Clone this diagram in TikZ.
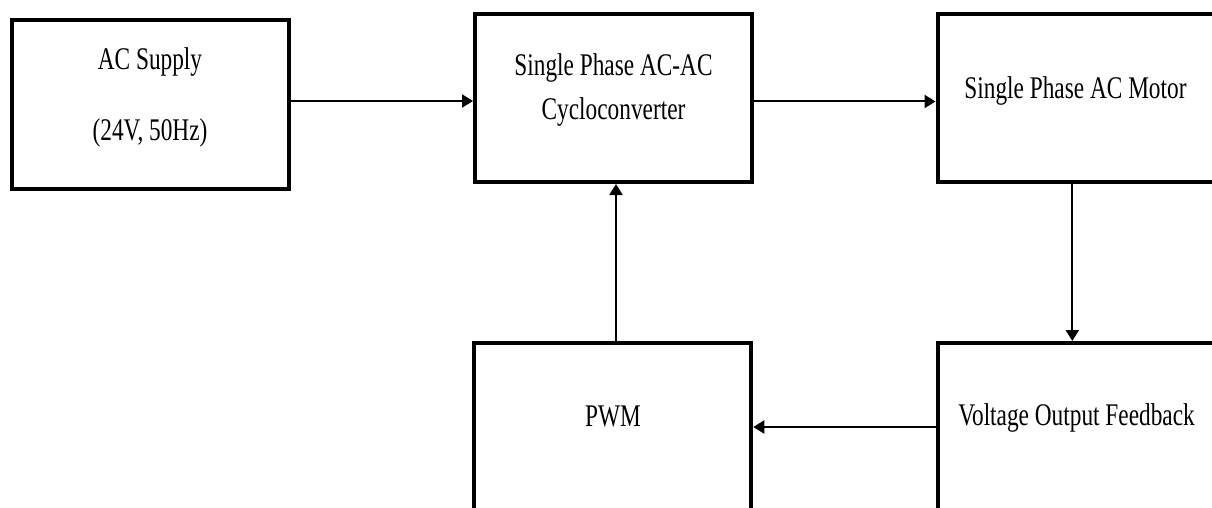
\documentclass[tikz,border=0pt]{standalone}
\usepackage{fontspec}
\setmainfont{Liberation Serif}[FakeStretch=0.74]
\usetikzlibrary{arrows.meta}
\begin{document}
\begin{tikzpicture}[x=1pt,y=-1pt,
  blk/.style={draw, line width=4pt, minimum width=277pt, minimum height=168pt, inner sep=0pt},
  lbl/.style={font=\fontsize{31.5}{38}\selectfont, anchor=base, inner sep=0pt},
  arr/.style={line width=2pt, -{Triangle[length=11pt,width=13pt]}}]
\useasboundingbox (0,0) rectangle (1212,508);
\clip (0,0) rectangle (1212,508);
\fill[white] (0,0) rectangle (1212,508);
% boxes
\node[blk] (ac) at (150,104.5) {};
\node[blk] (cyclo) at (613.5,98) {};
\node[blk] (motor) at (1076,98) {};
\node[blk] (pwm) at (612.75,427) {};
\node[blk] (feed) at (1076,427) {};
% labels
\node[lbl] (t1) at (150,70) {AC Supply};
\node[lbl] (t2) at (150,140) {(24V, 50Hz)};
\node[lbl] (t3) at (613.5,76) {Single Phase AC-AC};
\node[lbl] (t4) at (613.5,120) {Cycloconverter};
\node[lbl] (t5) at (1075.5,99) {Single Phase AC Motor};
\node[lbl] (t6) at (613,426) {PWM};
\node[lbl] (t7) at (1076.5,425) {Voltage Output Feedback};
% helper coordinates
\coordinate (y1) at (0,101);
\coordinate (y2) at (0,101.5);
\coordinate (y3) at (0,427);
\coordinate (x1) at (616,0);
\coordinate (x2) at (1072.3,0);
% connectors
\draw[arr] (ac.east |- y1) -- (cyclo.west |- y1);
\draw[arr] (cyclo.east |- y2) -- (motor.west |- y2);
\draw[arr] (motor.south -| x2) -- (feed.north -| x2);
\draw[arr] (feed.west |- y3) -- (pwm.east |- y3);
\draw[arr] (pwm.north -| x1) -- (cyclo.south -| x1);
\end{tikzpicture}
\end{document}
